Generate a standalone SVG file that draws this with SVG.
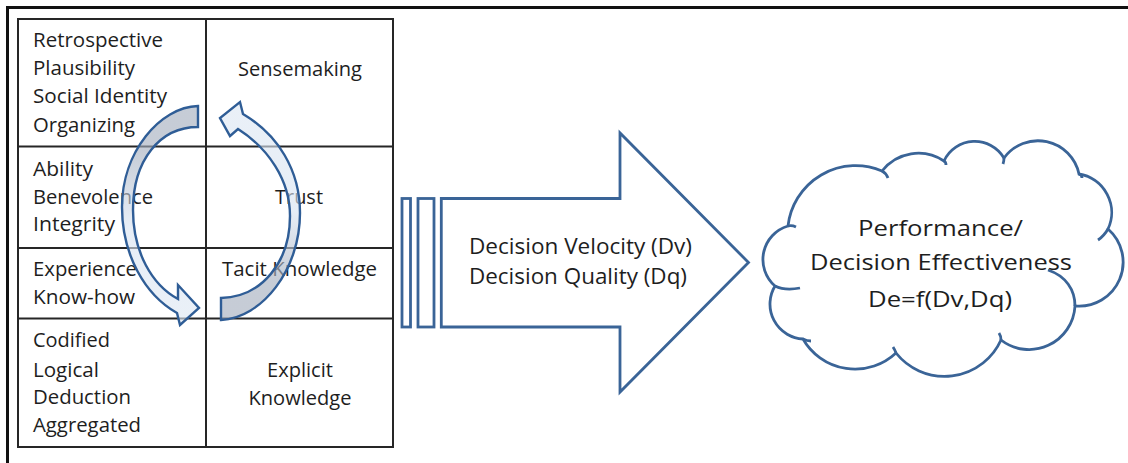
<svg xmlns="http://www.w3.org/2000/svg" width="1128" height="463" viewBox="0 0 1128 463">
<style>
.bg{fill:#ffffff}
.frame{fill:none;stroke:#111;stroke-width:3}
.grid{fill:none;stroke:#262626;stroke-width:2}
.t{font-family:"Open Sans","Liberation Sans",sans-serif;font-size:19.5px;fill:#1e1e1e}
.c{text-anchor:middle}
.big{font-family:"Open Sans","Liberation Sans",sans-serif;font-size:21.5px;fill:#1e1e1e}
.cl{font-family:"Open Sans","Liberation Sans",sans-serif;font-size:22.5px;fill:#1e1e1e;text-anchor:middle}
.blue{stroke:#3a6497;stroke-width:2.8;stroke-linejoin:miter}
.cyc{stroke:#2f5d96;stroke-width:2.4;stroke-linejoin:miter}
</style>
<defs>
<linearGradient id="g1" x1="0" y1="0" x2="0" y2="1">
<stop offset="0.2" stop-color="#a3adbd"/>
<stop offset="0.55" stop-color="#d8e3f1"/>
<stop offset="1" stop-color="#dde7f3"/>
</linearGradient>
<linearGradient id="g2" x1="0" y1="1" x2="0" y2="0">
<stop offset="0.18" stop-color="#a3adbd"/>
<stop offset="0.5" stop-color="#d8e3f1"/>
<stop offset="1" stop-color="#dde7f3"/>
</linearGradient>
</defs>
<rect class="bg" x="0" y="0" width="1128" height="463"/>
<path class="frame" d="M7.5,470 V7.5 H1135"/>

<g id="table">
<rect class="grid" x="18" y="19" width="375" height="428"/>
<line class="grid" x1="206" y1="19" x2="206" y2="447"/>
<line class="grid" x1="18" y1="146.5" x2="393" y2="146.5"/>
<line class="grid" x1="18" y1="248" x2="393" y2="248"/>
<line class="grid" x1="18" y1="318.5" x2="393" y2="318.5"/>
</g>

<g id="row-sensemaking">
<text class="t" x="33" y="46.7" textLength="130" lengthAdjust="spacingAndGlyphs">Retrospective</text>
<text class="t" x="33" y="75" textLength="102" lengthAdjust="spacingAndGlyphs">Plausibility</text>
<text class="t" x="33" y="103" textLength="134" lengthAdjust="spacingAndGlyphs">Social Identity</text>
<text class="t" x="33" y="131.5" textLength="102" lengthAdjust="spacingAndGlyphs">Organizing</text>
<text class="t c" x="300" y="76" textLength="124" lengthAdjust="spacingAndGlyphs">Sensemaking</text>
</g>
<g id="row-trust">
<text class="t" x="33" y="175.7" textLength="60" lengthAdjust="spacingAndGlyphs">Ability</text>
<text class="t" x="33" y="204" textLength="120" lengthAdjust="spacingAndGlyphs">Benevolence</text>
<text class="t" x="33" y="230.7" textLength="82" lengthAdjust="spacingAndGlyphs">Integrity</text>
<text class="t c" x="299" y="204" textLength="48" lengthAdjust="spacingAndGlyphs">Trust</text>
</g>
<g id="row-tacit">
<text class="t" x="33" y="275.7" textLength="104" lengthAdjust="spacingAndGlyphs">Experience</text>
<text class="t" x="33" y="304" textLength="102" lengthAdjust="spacingAndGlyphs">Know-how</text>
<text class="t c" x="299.5" y="276" textLength="155" lengthAdjust="spacingAndGlyphs">Tacit Knowledge</text>
</g>
<g id="row-explicit">
<text class="t" x="33" y="347.3" textLength="77" lengthAdjust="spacingAndGlyphs">Codified</text>
<text class="t" x="33" y="376.7" textLength="66" lengthAdjust="spacingAndGlyphs">Logical</text>
<text class="t" x="33" y="404" textLength="98" lengthAdjust="spacingAndGlyphs">Deduction</text>
<text class="t" x="33" y="432.3" textLength="108" lengthAdjust="spacingAndGlyphs">Aggregated</text>
<text class="t c" x="300" y="377" textLength="66" lengthAdjust="spacingAndGlyphs">Explicit</text>
<text class="t c" x="300" y="405" textLength="103" lengthAdjust="spacingAndGlyphs">Knowledge</text>
</g>

<g id="connectors">
<path class="cyc" fill="url(#g1)" fill-opacity="0.62" d="M198,106 C160,107 122,152 122,207 C122,255 145,295 177,313 L180,325 L199,308 L178,285 L178,299 C152,285 133,252 133,210 C133,160 160,127 198,127 Z"/>
<path class="cyc" fill="url(#g2)" fill-opacity="0.62" d="M221,298 L221,320 C262,318 300,270 300,213 C300,170 278,135 243,114 L240,102 L220,118 L230,136 L238,129 C268,148 290,180 290,216 C290,262 262,297 221,298 Z"/>
</g>

<g id="decision-arrow">
<rect class="blue" fill="#fff" x="402" y="198.5" width="8.5" height="128.5"/>
<rect class="blue" fill="#fff" x="418" y="198.5" width="16" height="128.5"/>
<path class="blue" fill="#fff" d="M441.3,198.5 H620 V133 L748.5,262.5 L620,392 V327 H441.3 Z"/>
<text class="big" x="469" y="254" textLength="223" lengthAdjust="spacingAndGlyphs">Decision Velocity (Dv)</text>
<text class="big" x="469" y="284" textLength="218" lengthAdjust="spacingAndGlyphs">Decision Quality (Dq)</text>
</g>

<g id="performance-cloud">
<path class="blue" fill="#fff" d="M788,226 A68,68 0 0 1 882,171 A46,46 0 0 1 944,161 A34,34 0 0 1 1004,158 A42,42 0 0 1 1079,174 A39,39 0 0 1 1108,229 A44,44 0 0 1 1075,306 A46,46 0 0 1 1001,340 A62,62 0 0 1 896,353 A60,60 0 0 1 803,339 A35,35 0 0 1 775,286 A35,35 0 0 1 788,226 Z"/>
<path class="blue" fill="none" d="M788,226 Q792,225 796,227 M882,171 Q886,173 888,178 M944,161 Q946,162 946,165 M1004,158 Q1004,161 1003,164 M1079,174 Q1082,175 1082,178 M1108,229 Q1104,236 1098,240 M1048,270 C1066,276 1075,290 1075,306 M1001,340 Q1001,336 999,333 M896,353 Q895,350 893,347 M803,339 Q807,341 811,341 M775,286 Q785,291 800,288"/>
<text class="cl" x="940.5" y="235.7" textLength="165" lengthAdjust="spacingAndGlyphs">Performance/</text>
<text class="cl" x="941" y="270" textLength="262" lengthAdjust="spacingAndGlyphs">Decision Effectiveness</text>
<text class="cl" x="940" y="307.3" textLength="144" lengthAdjust="spacingAndGlyphs">De=f(Dv,Dq)</text>
</g>
</svg>
